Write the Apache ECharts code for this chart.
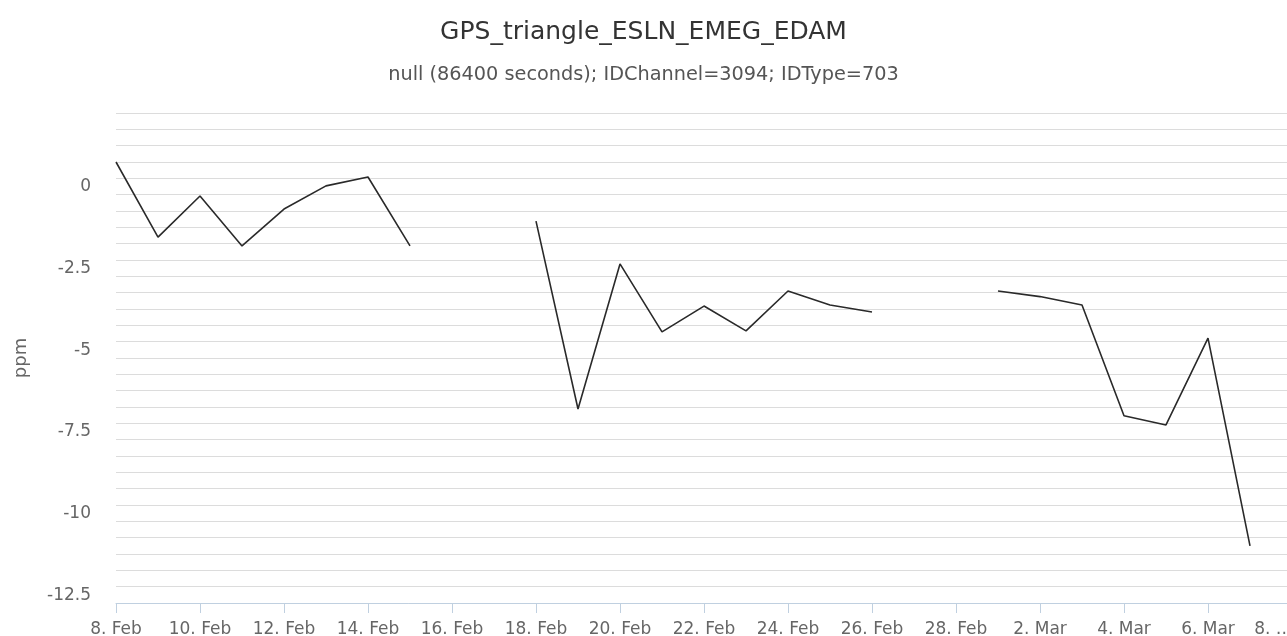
<!DOCTYPE html>
<html>
<head>
<meta charset="utf-8">
<script src="https://cdn.jsdelivr.net/npm/echarts@6/dist/echarts.min.js"></script>
<style>
  html, body { margin: 0; padding: 0; background: #fff; }
  #main { width: 1287px; height: 636px; }
</style>
</head>
<body>
<div id="main"></div>
<script>
// daily values, 8 Feb .. 8 Mar (null = no data)
const days = ['8. Feb', '9. Feb', '10. Feb', '11. Feb', '12. Feb', '13. Feb', '14. Feb', '15. Feb',
  '16. Feb', '17. Feb', '18. Feb', '19. Feb', '20. Feb', '21. Feb', '22. Feb', '23. Feb',
  '24. Feb', '25. Feb', '26. Feb', '27. Feb', '28. Feb', '1. Mar', '2. Mar', '3. Mar',
  '4. Mar', '5. Mar', '6. Mar', '7. Mar', '8. Mar'];
const ppm = [0.50, -1.80, -0.54, -2.07, -0.94, -0.23, 0.04, -2.07,
  null, null, -1.31, -7.06, -2.62, -4.70, -3.91, -4.67,
  -3.45, -3.88, -4.09, null, null, -3.45, -3.62, -3.88,
  -7.27, -7.55, -4.89, -11.25, null];
const yLabels = [0, -2.5, -5, -7.5, -10, -12.5];

const font = 'DejaVu Sans';
const chart = echarts.init(document.getElementById('main'));

const option = {
  animation: false,
  backgroundColor: '#fff',
  title: {
    text: 'GPS_triangle_ESLN_EMEG_EDAM',
    subtext: 'null (86400 seconds); IDChannel=3094; IDType=703',
    left: 'center',
    top: 15,
    itemGap: 20,
    textStyle: { fontFamily: font, fontSize: 25, fontWeight: 'normal', color: '#333' },
    subtextStyle: { fontFamily: font, fontSize: 19.3, color: '#555' }
  },
  grid: { left: 116, top: 113, width: 1176, height: 490, outerBoundsMode: 'none' },
  xAxis: {
    type: 'category',
    data: days,
    boundaryGap: false,
    axisLine: { onZero: false, lineStyle: { color: '#C0D0E0', width: 1 } },
    axisTick: { show: true, interval: 1, length: 10, lineStyle: { color: '#C0D0E0' } },
    axisLabel: {
      interval: 1,
      margin: 18,
      color: '#666',
      fontFamily: font,
      fontSize: 17,
      formatter: function (v, i) {
        return i === days.length - 1 ? '{m|8. …}' : v;
      },
      rich: { m: { fontFamily: font, fontSize: 17, color: '#666', padding: [0, 37, 0, 0] } }
    },
    splitLine: { show: false }
  },
  yAxis: {
    type: 'value',
    min: -13,
    max: 2,
    interval: 0.5,
    name: 'ppm',
    nameLocation: 'middle',
    nameRotate: 90,
    nameGap: 86,
    nameTextStyle: { fontFamily: font, fontSize: 18, color: '#666' },
    axisLine: { show: false },
    axisTick: { show: false },
    axisLabel: {
      margin: 25,
      color: '#666',
      fontFamily: font,
      fontSize: 17,
      verticalAlign: 'top',
      formatter: function (v) {
        const hit = yLabels.find(function (l) { return Math.abs(l - v) < 1e-6; });
        return hit === undefined ? '' : String(hit);
      }
    },
    splitLine: { lineStyle: { color: '#dcdcdc', width: 1 } }
  },
  series: [
    {
      type: 'line',
      data: ppm,
      connectNulls: false,
      showSymbol: false,
      lineStyle: { color: '#2a2a2a', width: 1.6 }
    }
  ]
};

chart.setOption(option);
</script>
</body>
</html>
